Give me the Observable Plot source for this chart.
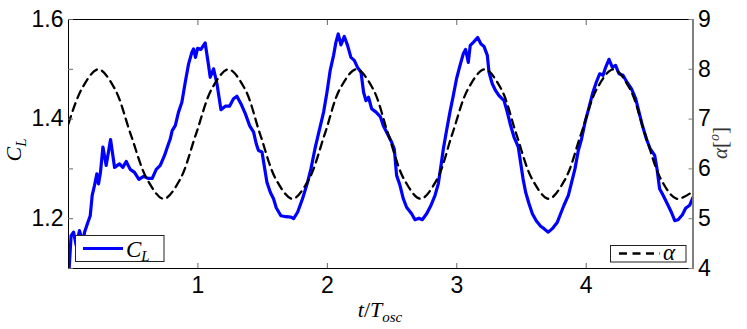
<!DOCTYPE html>
<html><head><meta charset="utf-8">
<script src="https://cdn.jsdelivr.net/npm/d3@7"></script>
<script src="https://cdn.jsdelivr.net/npm/@observablehq/plot@0.6"></script>
<style>body{margin:0;background:#fff} svg{display:block}</style>
</head><body><div id="chart"></div>
<script>
// C_L series (t/T_osc, C_L)
const clT = [0.005,0.02,0.039,0.06,0.085,0.111,0.124,0.15,0.168,0.183,0.201,0.219,0.232,0.247,0.266,0.291,0.325,0.356,0.394,0.42,0.446,0.477,0.51,0.544,0.58,0.614,0.647,0.678,0.709,0.742,0.768,0.786,0.801,0.825,0.85,0.876,0.902,0.928,0.953,0.966,0.981,0.997,1.023,1.056,1.082,1.095,1.121,1.147,1.178,1.211,1.244,1.275,1.301,1.332,1.366,1.399,1.43,1.451,1.468,1.495,1.512,1.533,1.559,1.584,1.605,1.641,1.68,1.719,1.739,1.77,1.808,1.847,1.873,1.904,1.937,1.971,1.997,2.022,2.048,2.066,2.084,2.105,2.131,2.156,2.182,2.208,2.233,2.26,2.28,2.298,2.318,2.342,2.376,2.409,2.432,2.457,2.496,2.517,2.535,2.561,2.587,2.612,2.651,2.677,2.708,2.733,2.767,2.801,2.832,2.857,2.878,2.896,2.921,2.947,2.973,2.998,3.025,3.05,3.068,3.089,3.104,3.128,3.161,3.187,3.21,3.236,3.249,3.274,3.3,3.326,3.365,3.39,3.416,3.442,3.475,3.493,3.512,3.532,3.558,3.584,3.614,3.648,3.674,3.707,3.738,3.777,3.802,3.828,3.862,3.887,3.913,3.939,3.964,3.991,4.016,4.052,4.078,4.104,4.13,4.15,4.176,4.202,4.227,4.253,4.284,4.315,4.349,4.382,4.408,4.434,4.465,4.495,4.529,4.547,4.567,4.594,4.632,4.658,4.684,4.71,4.743,4.768,4.799,4.825];
const clV = [1.10,1.166,1.173,1.146,1.176,1.153,1.173,1.193,1.206,1.247,1.267,1.29,1.27,1.293,1.344,1.307,1.359,1.303,1.31,1.303,1.315,1.299,1.293,1.279,1.285,1.281,1.281,1.299,1.307,1.327,1.347,1.36,1.377,1.387,1.414,1.434,1.474,1.511,1.534,1.541,1.524,1.542,1.54,1.553,1.508,1.484,1.501,1.471,1.419,1.426,1.426,1.441,1.446,1.431,1.411,1.387,1.374,1.35,1.337,1.334,1.307,1.273,1.253,1.24,1.222,1.206,1.204,1.203,1.2,1.213,1.24,1.273,1.3,1.34,1.377,1.414,1.454,1.498,1.528,1.554,1.571,1.549,1.566,1.548,1.524,1.518,1.504,1.494,1.454,1.437,1.444,1.421,1.414,1.405,1.387,1.374,1.354,1.34,1.287,1.267,1.24,1.223,1.21,1.198,1.201,1.198,1.21,1.227,1.247,1.27,1.307,1.34,1.377,1.414,1.447,1.481,1.508,1.531,1.54,1.514,1.548,1.554,1.564,1.551,1.546,1.528,1.494,1.471,1.457,1.447,1.437,1.414,1.387,1.364,1.344,1.313,1.28,1.253,1.23,1.21,1.196,1.185,1.18,1.173,1.18,1.193,1.21,1.227,1.247,1.273,1.3,1.337,1.36,1.394,1.418,1.454,1.474,1.491,1.488,1.504,1.52,1.504,1.508,1.491,1.488,1.474,1.461,1.441,1.414,1.387,1.36,1.34,1.327,1.3,1.26,1.247,1.227,1.213,1.196,1.198,1.208,1.221,1.227,1.243];

// alpha series (t/T_osc, degrees)
const alphaT = [0,0.105,0.23,0.355,0.48,0.61,0.735,0.86,0.985,1.11,1.235,1.36,1.48,1.605,1.73,1.855,1.98,2.1,2.225,2.35,2.47,2.595,2.72,2.845,2.965,3.09,3.215,3.34,3.46,3.585,3.71,3.835,3.96,4.085,4.21,4.335,4.455,4.58,4.70,4.825];
const alphaV = [6.91,7.62,8.0,7.62,6.7,5.78,5.4,5.78,6.7,7.62,8.0,7.62,6.7,5.78,5.4,5.78,6.7,7.62,8.0,7.62,6.7,5.78,5.4,5.78,6.7,7.62,8.0,7.62,6.7,5.78,5.4,5.78,6.7,7.62,8.0,7.62,6.7,5.78,5.4,5.55];

const xTicks = [1, 2, 3, 4];
const clTicks = [1.1, 1.2, 1.3, 1.4, 1.5, 1.6];
const clTickLabels = ["1.2", "1.4", "1.6"];
const alphaTicks = [4, 5, 6, 7, 8, 9];
const xDomain = [0, 4.825];
const clDomain = [1.1, 1.6];
const alphaDomain = [4, 9];

// map alpha (right axis) into the C_L (left axis) coordinate
const toCL = a => clDomain[0] + (a - alphaDomain[0]) * (clDomain[1] - clDomain[0]) / (alphaDomain[1] - alphaDomain[0]);
const fromCL = c => alphaDomain[0] + (c - clDomain[0]) * (alphaDomain[1] - alphaDomain[0]) / (clDomain[1] - clDomain[0]);

const clData = clT.map((t, i) => ({t, v: clV[i]}));
const alphaData = alphaT.map((t, i) => ({t, v: toCL(alphaV[i])}));

const W = 747, H = 329;
const mL = 68, mR = 54.5, mT = 19, mB = 61;
const tickFont = 23;

const svg = Plot.plot({
  width: W, height: H,
  marginLeft: mL, marginRight: mR, marginTop: mT, marginBottom: mB,
  x: {domain: xDomain},
  y: {domain: clDomain},
  style: {fontFamily: "'Liberation Sans', Arial, Helvetica, sans-serif", fontSize: "23px", color: "#000", background: "#fff", overflow: "visible"},
  marks: [
    Plot.line(clData, {x: "t", y: "v", stroke: "#0000ff", strokeWidth: 3.2, strokeLinejoin: "round", clip: true}),
    Plot.line(alphaData, {x: "t", y: "v", stroke: "#000", strokeWidth: 2.3, strokeDasharray: "8,5.5", curve: "catmull-rom", clip: true}),
    Plot.frame({stroke: "#000", strokeWidth: 1}),
    Plot.ruleX([xDomain[1]], {stroke: "#808080", strokeWidth: 1.5}),
    Plot.axisX({ticks: xTicks, tickSize: -5, tickPadding: 13, label: null, stroke: "#666", fontSize: tickFont,
      tickFormat: d => String(d)}),
    Plot.axisX({anchor: "top", ticks: xTicks, tickSize: -5, tickFormat: () => "", label: null, stroke: "#666"}),
    Plot.axisY({ticks: clTicks, tickSize: -5, tickPadding: 10, label: null, stroke: "#666", fontSize: tickFont,
      tickFormat: d => clTickLabels.includes(d.toFixed(1)) ? d.toFixed(1) : ""}),
    Plot.axisY({anchor: "right", ticks: alphaTicks.map(toCL), tickSize: -5, tickPadding: 10, label: null, stroke: "#808080", fontSize: tickFont,
      tickFormat: d => String(Math.round(fromCL(d)))})
  ]
});
document.getElementById("chart").appendChild(svg);

const s = d3.select(svg);
const serif = "'Liberation Serif', 'DejaVu Serif', serif";

// axis labels
const yl = s.append("text").attr("transform", "translate(21,150) rotate(-90)")
  .attr("text-anchor", "middle").attr("font-family", serif).attr("font-style", "italic").attr("font-size", 22).attr("fill", "#000");
yl.append("tspan").text("C");
yl.append("tspan").text("L").attr("font-size", 15).attr("dy", 5);

const xl = s.append("text").attr("x", 380).attr("y", 317)
  .attr("text-anchor", "middle").attr("font-family", serif).attr("font-style", "italic").attr("font-size", 22).attr("fill", "#000");
xl.append("tspan").text("t");
xl.append("tspan").text("/").attr("font-style", "normal");
xl.append("tspan").text("T");
xl.append("tspan").text("osc").attr("font-size", 15).attr("dy", 5);

const al = s.append("text").attr("transform", "translate(727,143) rotate(-90)")
  .attr("text-anchor", "middle").attr("font-family", serif).attr("font-size", 21).attr("fill", "#333");
al.append("tspan").text("α").attr("font-style", "italic");
al.append("tspan").text("[");
al.append("tspan").text("o").attr("font-style", "italic").attr("font-size", 14).attr("dy", -8);
al.append("tspan").text("]").attr("dy", 8);

// legends
const g1 = s.append("g");
g1.append("rect").attr("x", 75.5).attr("y", 235.5).attr("width", 88.5).attr("height", 26).attr("fill", "#fff").attr("stroke", "#222").attr("stroke-width", 1);
g1.append("line").attr("x1", 83).attr("x2", 123).attr("y1", 248.5).attr("y2", 248.5).attr("stroke", "#0000ff").attr("stroke-width", 3.2);
const t1 = g1.append("text").attr("x", 126).attr("y", 256.5).attr("text-anchor", "start").attr("font-family", serif).attr("font-style", "italic").attr("font-size", 23).attr("fill", "#000");
t1.append("tspan").text("C");
t1.append("tspan").text("L").attr("font-size", 15).attr("dy", 4);

const g2 = s.append("g");
g2.append("rect").attr("x", 610.5).attr("y", 245.5).attr("width", 75.5).attr("height", 16.5).attr("fill", "#fff").attr("stroke", "#222").attr("stroke-width", 1);
g2.append("line").attr("x1", 619).attr("x2", 660).attr("y1", 253.5).attr("y2", 253.5).attr("stroke", "#000").attr("stroke-width", 2.3).attr("stroke-dasharray", "8,5.5");
g2.append("text").attr("x", 663).attr("y", 259.5).attr("text-anchor", "start").attr("font-family", serif).attr("font-style", "italic").attr("font-size", 23).attr("fill", "#000").text("α");
</script>
</body></html>
